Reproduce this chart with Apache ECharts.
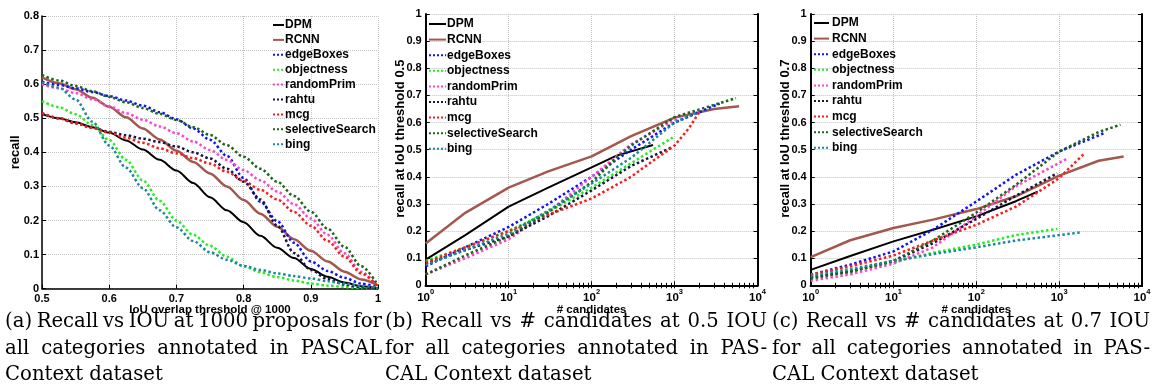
<!DOCTYPE html>
<html><head><meta charset="utf-8">
<script src="https://cdn.jsdelivr.net/npm/echarts@6/dist/echarts.min.js"></script>
<style>html,body{margin:0;padding:0;background:#fff}#c{width:1154px;height:388px}</style>
</head><body><div id="c"></div><script>
// ---------- data ----------
const methods = ['DPM','RCNN','edgeBoxes','objectness','randomPrim','rahtu','mcg','selectiveSearch','bing'];

// (a) recall vs IoU threshold @ 1000 proposals
const iouThresholds = [0.5,0.525,0.55,0.575,0.6,0.625,0.65,0.675,0.7,0.725,0.75,0.775,0.8,0.825,0.85,0.875,0.9,0.925,0.95,0.975,1.0];
const iouDPM        = [0.512,0.500,0.488,0.474,0.458,0.435,0.408,0.378,0.347,0.310,0.268,0.230,0.195,0.155,0.120,0.090,0.058,0.035,0.018,0.007,0.000];
const iouRCNN       = [0.620,0.603,0.585,0.560,0.534,0.503,0.470,0.438,0.405,0.372,0.338,0.300,0.260,0.220,0.182,0.145,0.111,0.080,0.050,0.027,0.010];
const iouEdgeBoxes  = [0.607,0.598,0.588,0.577,0.565,0.552,0.537,0.518,0.497,0.470,0.437,0.390,0.325,0.255,0.198,0.135,0.080,0.052,0.032,0.015,0.004];
const iouObjectness = [0.550,0.533,0.512,0.480,0.436,0.378,0.318,0.258,0.200,0.158,0.126,0.094,0.066,0.048,0.034,0.024,0.015,0.009,0.005,0.002,0.000];
const iouRandomPrim = [0.600,0.588,0.574,0.556,0.535,0.515,0.496,0.476,0.456,0.432,0.407,0.378,0.348,0.318,0.285,0.248,0.206,0.158,0.104,0.050,0.005];
const iouRahtu      = [0.515,0.500,0.485,0.472,0.460,0.450,0.440,0.430,0.417,0.400,0.382,0.352,0.314,0.262,0.185,0.105,0.055,0.028,0.012,0.004,0.000];
const iouMcg        = [0.515,0.500,0.486,0.472,0.458,0.443,0.428,0.412,0.397,0.383,0.367,0.343,0.316,0.290,0.262,0.225,0.185,0.140,0.094,0.045,0.005];
const iouSelSearch  = [0.627,0.611,0.595,0.579,0.563,0.547,0.530,0.513,0.495,0.474,0.451,0.421,0.387,0.352,0.314,0.272,0.226,0.176,0.123,0.066,0.010];
const iouBing       = [0.605,0.590,0.555,0.490,0.420,0.355,0.295,0.230,0.180,0.140,0.107,0.085,0.067,0.055,0.045,0.037,0.030,0.022,0.015,0.008,0.002];

// (b) recall at IoU 0.5 vs # candidates
const candDPM_05 = [1,3,10,30,100,200,550];                 const recDPM_05 = [0.095,0.185,0.29,0.36,0.435,0.478,0.517];
const candRCNN_05 = [1,3,10,30,100,300,1000,3000,6000];     const recRCNN_05 = [0.154,0.267,0.36,0.42,0.475,0.55,0.618,0.65,0.66];
const candEdge_05 = [1,3,10,30,100,300,1000,3500];          const recEdge_05 = [0.07,0.14,0.215,0.3,0.4,0.5,0.6,0.67];
const candObj_05 = [1,3,10,30,100,300,950];                 const recObj_05 = [0.09,0.14,0.2,0.27,0.36,0.45,0.545];
const candRP_05 = [1,3,10,30,100,300,1000,1300];            const recRP_05 = [0.04,0.1,0.17,0.27,0.4,0.52,0.61,0.63];
const candRahtu_05 = [1,3,10,30,100,300,950];               const recRahtu_05 = [0.08,0.13,0.18,0.255,0.35,0.44,0.51];
const candMcg_05 = [1,3,10,30,100,300,500,1000,1500,2000];  const recMcg_05 = [0.085,0.14,0.2,0.26,0.32,0.4,0.45,0.515,0.58,0.64];
const candSS_05 = [1,3,10,30,100,200,300,1000,3000,5500];   const recSS_05 = [0.04,0.11,0.18,0.27,0.38,0.47,0.515,0.62,0.665,0.69];
const candBing_05 = [1,3,10,30,100,300,1000,2000];          const recBing_05 = [0.075,0.13,0.19,0.275,0.375,0.47,0.6,0.64];

// (c) recall at IoU 0.7 vs # candidates
const candDPM_07 = [1,3,10,30,100,300,550];                 const recDPM_07 = [0.057,0.108,0.162,0.205,0.254,0.31,0.345];
const candRCNN_07 = [1,3,10,30,100,300,1000,3000,6000];     const recRCNN_07 = [0.104,0.166,0.211,0.242,0.281,0.328,0.404,0.459,0.475];
const candEdge_07 = [1,3,10,30,100,300,1000,3500];          const recEdge_07 = [0.039,0.076,0.125,0.205,0.309,0.407,0.493,0.561];
const candObj_07 = [1,3,10,30,100,300,950];                 const recObj_07 = [0.03,0.055,0.085,0.12,0.15,0.185,0.208];
const candRP_07 = [1,3,10,30,100,300,1300];                 const recRP_07 = [0.017,0.04,0.08,0.14,0.255,0.365,0.47];
const candRahtu_07 = [1,3,10,30,100,300,950];               const recRahtu_07 = [0.03,0.05,0.09,0.155,0.245,0.33,0.413];
const candMcg_07 = [1,3,10,30,100,300,1000,2000];           const recMcg_07 = [0.04,0.07,0.11,0.165,0.223,0.29,0.395,0.485];
const candSS_07 = [1,3,10,30,100,300,1000,3000,5500];       const recSS_07 = [0.025,0.05,0.09,0.165,0.268,0.37,0.493,0.565,0.592];
const candBing_07 = [1,3,10,30,100,300,1000,1800];          const recBing_07 = [0.035,0.06,0.09,0.115,0.14,0.165,0.185,0.195];

// tick labels
const logTickExponents = ['0','1','2','3','4'];
const minorMultipliers = [2,3,4,5,6,7,8,9];

// captions
const captionA = ['(a) Recall vs IOU at 1000 proposals for','all categories annotated in PASCAL','Context dataset'];
const captionB = ['(b) Recall vs # candidates at 0.5 IOU','for all categories annotated in PAS-','CAL Context dataset'];
const captionC = ['(c) Recall vs # candidates at 0.7 IOU','for all categories annotated in PAS-','CAL Context dataset'];

// ---------- styles ----------
const SANS = '"Liberation Sans", Arial, Helvetica, sans-serif';
const SERIF = '"DejaVu Serif", serif';
const GRID_COLOR = '#c2c2c2';
const styles = {
  DPM:{color:'#000000', type:'solid', width:2},
  RCNN:{color:'#a3584f', type:'solid', width:2.5},
  edgeBoxes:{color:'#1010ff', type:'dotted', width:2.5},
  objectness:{color:'#22ee22', type:'dotted', width:2.5},
  randomPrim:{color:'#ff44cc', type:'dotted', width:2.5},
  rahtu:{color:'#16163f', type:'dotted', width:2.5},
  mcg:{color:'#ff1a1a', type:'dotted', width:2.5},
  selectiveSearch:{color:'#1a661a', type:'dotted', width:2.5},
  bing:{color:'#1a8a99', type:'dotted', width:2.5}
};

const zip = (xs, ys) => xs.map((x, i) => [x, ys[i]]);
const seriesA = [iouDPM,iouRCNN,iouEdgeBoxes,iouObjectness,iouRandomPrim,iouRahtu,iouMcg,iouSelSearch,iouBing].map(ys => zip(iouThresholds, ys));
const seriesB = [[candDPM_05,recDPM_05],[candRCNN_05,recRCNN_05],[candEdge_05,recEdge_05],[candObj_05,recObj_05],[candRP_05,recRP_05],[candRahtu_05,recRahtu_05],[candMcg_05,recMcg_05],[candSS_05,recSS_05],[candBing_05,recBing_05]].map(p => zip(p[0], p[1]));
const seriesC = [[candDPM_07,recDPM_07],[candRCNN_07,recRCNN_07],[candEdge_07,recEdge_07],[candObj_07,recObj_07],[candRP_07,recRP_07],[candRahtu_07,recRahtu_07],[candMcg_07,recMcg_07],[candSS_07,recSS_07],[candBing_07,recBing_07]].map(p => zip(p[0], p[1]));

const minorTicks = [];
for (let k = 0; k < 4; k++) minorMultipliers.forEach(m => minorTicks.push(m * Math.pow(10, k)));

const tickLabelStyle = {color:'#000', fontFamily:SANS, fontWeight:'bold', fontSize:11};
const xNameStyle = {color:'#000', fontFamily:SANS, fontWeight:'bold', fontSize:11.5};
const yNameStyle = {color:'#000', fontFamily:SANS, fontWeight:'bold', fontSize:13};
const dotted = {show:true, lineStyle:{type:'dotted', color:GRID_COLOR, width:1}};

function logAxes(grid) {
  return [
    {type:'log', logBase:10, gridIndex:grid, position:'bottom', min:1, max:10000,
     axisLine:{show:true, lineStyle:{color:'#000', width:2}},
     axisTick:{show:true, inside:true, length:4, lineStyle:{color:'#000', width:1}},
     axisLabel:{show:true, margin:3, formatter:(v) => {
        const e = logTickExponents[Math.round(Math.log10(v))];
        return '{m|10}{s|' + e + '}';
      }, rich:{m:{fontFamily:SANS, fontWeight:'bold', fontSize:11.5, color:'#000', verticalAlign:'bottom', lineHeight:16},
               s:{fontFamily:SANS, fontWeight:'bold', fontSize:7.5, color:'#000', verticalAlign:'top', lineHeight:9}}},
     splitLine:dotted,
     name:'# candidates', nameLocation:'middle', nameGap:19, nameMoveOverlap:false, nameTextStyle:xNameStyle},
    {type:'log', logBase:10, gridIndex:grid, position:'top', min:1, max:10000,
     axisLine:{show:true, lineStyle:{color:'#000', width:2}},
     axisTick:{show:true, inside:true, length:3, customValues:minorTicks.concat([10,100,1000]), lineStyle:{color:'#000', width:1}},
     axisLabel:{show:false}, splitLine:{show:false}},
    {type:'log', logBase:10, gridIndex:grid, position:'bottom', min:1, max:10000,
     axisLine:{show:false},
     axisTick:{show:true, inside:true, length:2.5, customValues:minorTicks, lineStyle:{color:'#000', width:1}},
     axisLabel:{show:false}, splitLine:{show:false}}
  ];
}
function recallAxes(grid, name) {
  return [
    {type:'value', gridIndex:grid, position:'left', min:0, max:1, interval:0.1,
     axisLine:{show:true, lineStyle:{color:'#000', width:2}},
     axisTick:{show:true, inside:true, length:4, lineStyle:{color:'#000'}},
     axisLabel:Object.assign({margin:4}, tickLabelStyle),
     splitLine:dotted,
     name:name, nameLocation:'middle', nameGap:19, nameMoveOverlap:false,
     nameTextStyle:Object.assign({padding:[0,0,0,22]}, yNameStyle)},
    {type:'value', gridIndex:grid, position:'right', min:0, max:1, interval:0.1,
     axisLine:{show:true, lineStyle:{color:'#000', width:2}},
     axisTick:{show:true, inside:true, length:4, lineStyle:{color:'#000'}},
     axisLabel:{show:false}, splitLine:{show:false}}
  ];
}

function makeSeries(dataList, xIdx, yIdx, smooth) {
  return methods.map((m, i) => ({
    type:'line', name:m, xAxisIndex:xIdx, yAxisIndex:yIdx,
    data:dataList[i], symbol:'none', showSymbol:false,
    smooth:smooth ? 0.3 : false, smoothMonotone:'x',
    lineStyle:{color:styles[m].color, width:styles[m].width, type:styles[m].type, cap:'butt'},
    itemStyle:{color:styles[m].color},
    emphasis:{disabled:true}, z:2 + i
  }));
}

function legendAt(left, top, itemWidth, gap, textShift) {
  return {
    orient:'vertical', left:left, top:top, data:methods, selectedMode:false,
    itemWidth:itemWidth, itemHeight:10, itemGap:gap, padding:0,
    itemStyle:{opacity:0},
    textStyle:{color:'#000', fontFamily:SANS, fontWeight:'bold', fontSize:12, lineHeight:14, padding:[0,0,0,textShift]}
  };
}

// ---------- captions (justified) ----------
const ctx = document.createElement('canvas').getContext('2d');
ctx.font = '100px ' + SERIF;
const capSize = 158 / ctx.measureText('Context dataset').width * 100;
ctx.font = capSize + 'px ' + SERIF;
const capMidY = [322, 348.5, 375];
const graphics = [];
function caption(lines, x0, x1) {
  lines.forEach((line, li) => {
    const words = line.split(' ');
    const widths = words.map(w => ctx.measureText(w).width);
    const total = widths.reduce((a, b) => a + b, 0);
    const justify = li < lines.length - 1;
    const gap = justify ? (x1 - x0 - total) / (words.length - 1) : ctx.measureText(' ').width;
    let x = x0;
    words.forEach((w, wi) => {
      graphics.push({type:'text', x:x, y:capMidY[li], silent:true,
        style:{text:w, fill:'#000', font:capSize.toFixed(2) + 'px ' + SERIF, textAlign:'left', textVerticalAlign:'middle', verticalAlign:'middle'}});
      x += widths[wi] + gap;
    });
  });
}
caption(captionA, 5, 382);
caption(captionB, 385, 767);
caption(captionC, 772, 1150);

const option = {
  animation:false,
  backgroundColor:'#fff',
  grid:[
    {left:42, top:16, width:336, height:272.7, outerBoundsMode:'none'},
    {left:425.7, top:14, width:331.8, height:271.3, outerBoundsMode:'none'},
    {left:810.7, top:14, width:331.3, height:271.3, outerBoundsMode:'none'}
  ],
  xAxis:[
    {type:'value', gridIndex:0, min:0.5, max:1, interval:0.1,
     axisLine:{show:true, lineStyle:{color:'#000', width:1.5}},
     axisTick:{show:true, inside:true, length:4, lineStyle:{color:'#000'}},
     axisLabel:Object.assign({margin:5}, tickLabelStyle),
     splitLine:dotted,
     name:'IoU overlap threshold @ 1000', nameLocation:'middle', nameGap:15.5, nameMoveOverlap:false, nameTextStyle:xNameStyle}
  ].concat(logAxes(1), logAxes(2)),
  yAxis:[
    {type:'value', gridIndex:0, min:0, max:0.8, interval:0.1,
     axisLine:{show:true, lineStyle:{color:'#000', width:1.5}},
     axisTick:{show:true, inside:true, length:4, lineStyle:{color:'#000'}},
     axisLabel:Object.assign({margin:3}, tickLabelStyle),
     splitLine:dotted,
     name:'recall', nameLocation:'middle', nameGap:20.5, nameMoveOverlap:false, nameTextStyle:yNameStyle}
  ].concat(recallAxes(1, 'recall at IoU threshold 0.5'), recallAxes(2, 'recall at IoU threshold 0.7')),
  legend:[legendAt(272, 18, 11, 0.9, -4), legendAt(428, 17, 17, 1.6, -4), legendAt(813, 16, 15, 1.6, -2)],
  series:[].concat(makeSeries(seriesA, 0, 0, true), makeSeries(seriesB, 1, 1, false), makeSeries(seriesC, 4, 3, false)),
  graphic:graphics
};

const chart = echarts.init(document.getElementById('c'), null, {renderer:'canvas'});
chart.setOption(option);
</script></body></html>
